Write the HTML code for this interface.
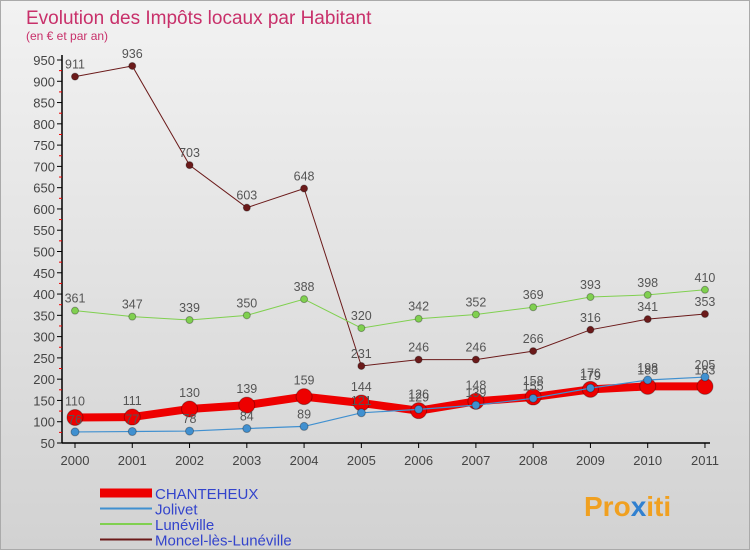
<!DOCTYPE html>
<html><head><meta charset="utf-8"><style>
body{margin:0;width:750px;height:550px;overflow:hidden;font-family:"Liberation Sans",sans-serif}
#bg{position:absolute;left:0;top:0;width:748px;height:548px;border:1px solid #aaa;background:linear-gradient(#f2f2f2,#d2d2d2)}
</style></head><body>
<div id="bg"></div>
<svg id="c" width="750" height="550" style="position:absolute;left:0;top:0">
<text x="26" y="24" font-size="19" fill="#c8306a">Evolution des Impôts locaux par Habitant</text>
<text x="26" y="40" font-size="12" fill="#c8306a">(en € et par an)</text>
<g id="axes"></g><g id="series"></g><g id="legend"></g>
<text x="584" y="516" font-size="28" font-weight="bold" fill="#f0a020">Pro<tspan fill="#3080d0">x</tspan>iti</text>
</svg>
<script>
const years=[2000,2001,2002,2003,2004,2005,2006,2007,2008,2009,2010,2011];
const chanteheux=[110,111,130,139,159,144,126,148,158,176,183,183];
const jolivet=[76,77,78,84,89,121,129,139,155,179,198,205];
const luneville=[361,347,339,350,388,320,342,352,369,393,398,410];
const moncel=[911,936,703,603,648,231,246,246,266,316,341,353];
const yTicks=[50,100,150,200,250,300,350,400,450,500,550,600,650,700,750,800,850,900,950];
const NS="http://www.w3.org/2000/svg";
const X=i=>75+i*57.27, Y=v=>443-(v-50)*383/900;
function mk(t,a,p){const e=document.createElementNS(NS,t);for(const k in a)e.setAttribute(k,a[k]);p.appendChild(e);return e;}
const ax=document.getElementById('axes');
let l=mk('line',{x1:62,y1:55,x2:62,y2:443,stroke:'#000','stroke-width':1.5},ax);

l=mk('line',{x1:62,y1:443,x2:710,y2:443,stroke:'#000','stroke-width':1.5},ax);

yTicks.forEach(v=>{mk('line',{x1:57,y1:Y(v),x2:62,y2:Y(v),stroke:'#000'},ax);
 if(v<950)mk('line',{x1:59,y1:Y(v+25),x2:62,y2:Y(v+25),stroke:'#e00'},ax);
 const t=mk('text',{x:55,y:Y(v)+5,'font-size':13,fill:'#444','text-anchor':'end'},ax);t.textContent=v;
 });
years.forEach((y,i)=>{mk('line',{x1:X(i),y1:443,x2:X(i),y2:448,stroke:'#000'},ax);
 const t=mk('text',{x:X(i),y:465,'font-size':13,fill:'#444','text-anchor':'middle'},ax);t.textContent=y;
 });
const S=[
 {n:'Moncel-lès-Lunéville',d:moncel,c:'#6b1a1a',w:1,r:3.5},
 {n:'Lunéville',d:luneville,c:'#80d050',w:1,r:3.5},
 {n:'CHANTEHEUX',d:chanteheux,c:'#ee0000',w:8,r:8},
 {n:'Jolivet',d:jolivet,c:'#4090d0',w:1.2,r:4}];
const sg=document.getElementById('series');
S.forEach(s=>{const g=mk('g',{},sg);
 const p=mk('polyline',{points:s.d.map((v,i)=>X(i)+','+Y(v)).join(' '),fill:'none',stroke:s.c,'stroke-width':s.w},g);
 
 s.d.forEach((v,i)=>{const c=mk('circle',{cx:X(i),cy:Y(v),r:s.r,fill:s.c,stroke:'rgba(0,0,0,0.3)'},g);
  
  const t=mk('text',{x:X(i),y:Y(v)-8-(s.r>5?4:0),'font-size':12.5,fill:'#555','text-anchor':'middle'},g);t.textContent=v;
  });});
const lg=document.getElementById('legend');
[S[2],S[3],S[1],S[0]].forEach((s,i)=>{const y=493+i*15.5;
 const ln=mk('line',{x1:100,y1:y,x2:152,y2:y,stroke:s.c,'stroke-width':s.w>2?9:2},lg);
 
 const t=mk('text',{x:155,y:y+6,'font-size':15,fill:'#3344cc'},lg);t.textContent=s.n;
 });
</script>
</body></html>
